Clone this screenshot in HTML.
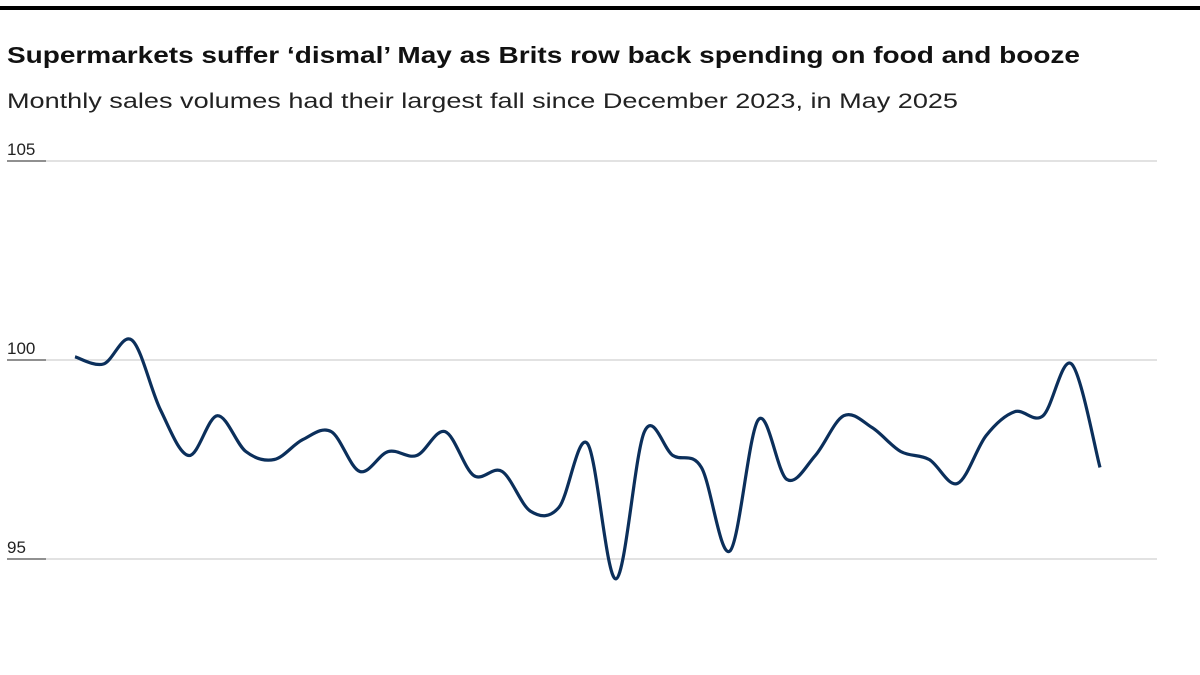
<!DOCTYPE html>
<html><head><meta charset="utf-8"><style>
html,body{margin:0;padding:0;background:#fff;}
svg{display:block;font-family:"Liberation Sans",sans-serif;}
</style></head><body>
<svg width="1200" height="675" viewBox="0 0 1200 675">
<rect x="0" y="6" width="1200" height="4" fill="#000"/>
<text x="7" y="63" font-size="23" font-weight="bold" fill="#111" textLength="1073" lengthAdjust="spacingAndGlyphs">Supermarkets suffer ‘dismal’ May as Brits row back spending on food and booze</text>
<text x="7" y="108" font-size="21" fill="#222" textLength="951" lengthAdjust="spacingAndGlyphs">Monthly sales volumes had their largest fall since December 2023, in May 2025</text>
<g id="grid"></g>
<path id="line" fill="none" stroke="#0b2f5b" stroke-width="3.2" stroke-linejoin="round" stroke-linecap="butt"/>
</svg>
<script>
const values = [100.08,99.9,100.5,98.75,97.6,98.6,97.7,97.5,98.0,98.2,97.2,97.7,97.6,98.2,97.1,97.2,96.2,96.3,97.9,94.5,98.2,97.6,97.3,95.2,98.5,97.0,97.6,98.6,98.3,97.7,97.5,96.9,98.1,98.7,98.6,99.9,97.3];
const yTicks = [105,100,95];
const tickLabels = ["105","100","95"];
const ns = "http://www.w3.org/2000/svg";
const x0 = 75, x1 = 1100;
function xScale(i){ return x0 + (x1 - x0) * i / (values.length - 1); }
function yScale(v){ return 360 - (v - 100) * 39.8; }
const grid = document.getElementById('grid');
yTicks.forEach((t, k) => {
  const y = yScale(t);
  const l = document.createElementNS(ns, 'line');
  l.setAttribute('x1', 7); l.setAttribute('x2', 1157);
  l.setAttribute('y1', y); l.setAttribute('y2', y);
  l.setAttribute('stroke', '#d0d0d0'); l.setAttribute('stroke-width', '1.3');
  
  
  grid.appendChild(l);
  const tk = document.createElementNS(ns, 'line');
  tk.setAttribute('x1', 7); tk.setAttribute('x2', 46);
  tk.setAttribute('y1', y); tk.setAttribute('y2', y);
  tk.setAttribute('stroke', '#555'); tk.setAttribute('stroke-width', '1.3');
  
  
  grid.appendChild(tk);
  const tx = document.createElementNS(ns, 'text');
  tx.setAttribute('x', 7); tx.setAttribute('y', y - 6);
  tx.setAttribute('font-size', '17'); tx.setAttribute('fill', '#222');
  tx.textContent = tickLabels[k];
  
  
  grid.appendChild(tx);
});
const pts = values.map((v, i) => [xScale(i), yScale(v)]);
let d = 'M' + pts[0][0] + ',' + pts[0][1];
for (let i = 0; i < pts.length - 1; i++) {
  const p0 = pts[Math.max(0, i - 1)], p1 = pts[i], p2 = pts[i + 1], p3 = pts[Math.min(pts.length - 1, i + 2)];
  const c1x = p1[0] + (p2[0] - p0[0]) / 6, c1y = p1[1] + (p2[1] - p0[1]) / 6;
  const c2x = p2[0] - (p3[0] - p1[0]) / 6, c2y = p2[1] - (p3[1] - p1[1]) / 6;
  d += ' C' + c1x + ',' + c1y + ' ' + c2x + ',' + c2y + ' ' + p2[0] + ',' + p2[1];
}
document.getElementById('line').setAttribute('d', d);
</script>
</body></html>
